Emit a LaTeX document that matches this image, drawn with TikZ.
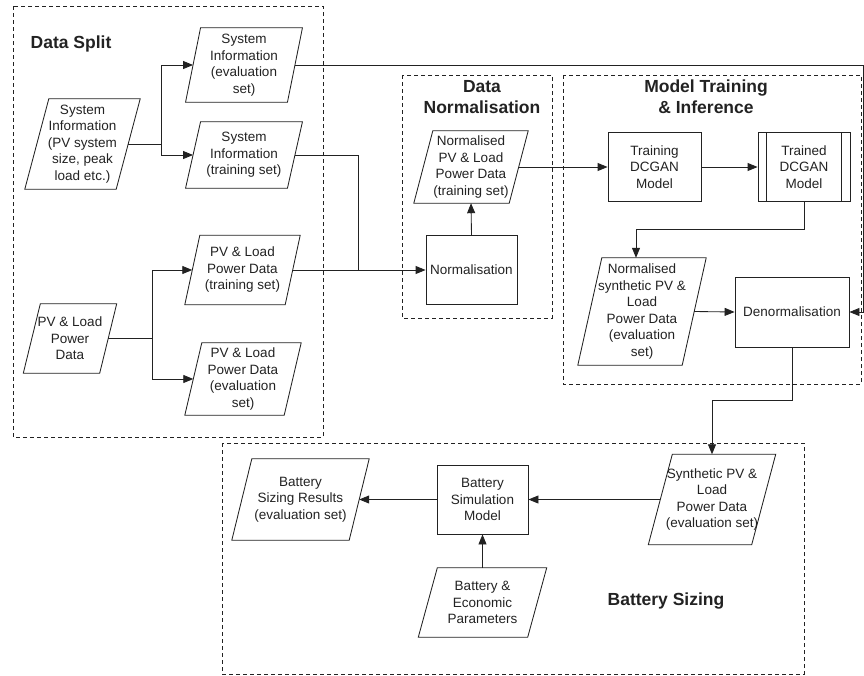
\documentclass[tikz,border=0pt]{standalone}
\usepackage{fontspec}
\setmainfont{Liberation Sans}
\usetikzlibrary{arrows.meta,calc}

% outline of a data (parallelogram) node: #1 node name, #2 horizontal lean
\newcommand\dataoutline[2]{%
  \draw[edge] ($(#1.north west)+(#2/2,0)$) -- ($(#1.north east)+(#2/2,0)$)
    -- ($(#1.south east)-(#2/2,0)$) -- ($(#1.south west)-(#2/2,0)$) -- cycle;}

\definecolor{ink}{HTML}{222222}

\tikzset{
  edge/.style={line width=0.85pt, ink},
  flow/.style={edge, -{Triangle[length=10pt,width=8pt]}},
  group/.style={draw, ink, line width=0.8pt, dash pattern=on 4pt off 3pt},
  txt/.style={text=ink, font=\fontsize{13.5}{16.5}\selectfont, align=center, inner sep=0pt},
  datanode/.style 2 args={txt, minimum width=#1, minimum height=#2},
  procnode/.style 2 args={txt, draw=ink, line width=0.85pt, minimum width=#1, minimum height=#2},
  heading/.style={text=ink, font=\fontsize{17.5}{21}\selectfont\bfseries, align=center, inner sep=0pt},
}

\begin{document}
\begin{tikzpicture}[x=1pt,y=-1pt]
\useasboundingbox (0,0) rectangle (864,675);

% ---- group frames ----
\draw[group] (13,6) rectangle (323,437);
\draw[group] (402,75) rectangle (552,318);
\draw[group] (563,75) rectangle (861,384);
\draw[group] (222,443) rectangle (804,674);

\node[heading] (tSplit) at (71,44) {Data Split};
\node[heading] (tNorm) at (482,97) {Data\\Normalisation};
\node[heading] (tModel) at (706,97) {Model Training\\\& Inference};
\node[heading] (tBatt) at (666,601) {Battery Sizing};

% ---- data split ----
\node[datanode={91pt}{90pt}] (sysin) at (82.5,144) {System\\Information\\(PV system\\size, peak\\load etc.)};
\dataoutline{sysin}{24}
\node[datanode={101.5pt}{74pt}] (syseval) at (244,65) {System\\Information\\(evaluation\\set)};
\dataoutline{syseval}{15}
\node[datanode={101.5pt}{66pt}] (systrain) at (244,155) {System\\Information\\(training set)};
\dataoutline{systrain}{15}
\node[datanode={76pt}{69pt}] (pvin) at (70,338.5) {PV \& Load\\Power\\Data};
\dataoutline{pvin}{17}
\node[datanode={100pt}{69pt}] (pvtrain) at (242.5,270) {PV \& Load\\Power Data\\(training set)};
\dataoutline{pvtrain}{15}
\node[datanode={99pt}{72pt}] (pveval) at (243,379) {PV \& Load\\Power Data\\(evaluation\\set)};
\dataoutline{pveval}{17}

% ---- normalisation ----
\node[datanode={95pt}{72pt}] (normpv) at (471,167) {Normalised\\PV \& Load\\Power Data\\(training set)};
\dataoutline{normpv}{19}
\node[procnode={91pt}{69pt}] (normbox) at (471.5,270) {Normalisation};

% ---- model training & inference ----
\node[procnode={93pt}{69pt}] (train) at (654.5,167) {Training\\DCGAN\\Model};
\node[procnode={92pt}{69pt}] (trained) at (804,167) {Trained\\DCGAN\\Model};
\draw[edge] ($(trained.north west)+(9,0)$) -- ($(trained.south west)+(9,0)$);
\draw[edge] ($(trained.north east)-(9,0)$) -- ($(trained.south east)-(9,0)$);
\node[datanode={104pt}{107pt}] (synnorm) at (642,311.5) {Normalised\\synthetic PV \&\\Load\\Power Data\\(evaluation\\set)};
\dataoutline{synnorm}{24}
\node[procnode={114pt}{70pt}] (denorm) at (792,312) {Denormalisation};

% ---- battery sizing ----
\node[datanode={103pt}{90pt}] (synth) at (712,499.5) {Synthetic PV \&\\Load\\Power Data\\(evaluation set)};
\dataoutline{synth}{24}
\node[procnode={91pt}{69pt}] (bsim) at (482.5,499.5) {Battery\\Simulation\\Model};
\node[datanode={117pt}{81pt}] (bres) at (300.5,499.5) {Battery\\Sizing Results\\(evaluation set)};
\dataoutline{bres}{20}
\node[datanode={109pt}{69pt}] (bpar) at (482.5,602.5) {Battery \&\\Economic\\Parameters};
\dataoutline{bpar}{19}

% ---- routing points ----
\coordinate (splitA) at (161,144);
\coordinate (splitB) at (152,338.5);
\coordinate (joinT) at (358,270);
\coordinate (rightX) at (863.5,0);
\coordinate (bendM) at (636,229);
\coordinate (bendD) at (712,400);

% ---- connectors ----
\draw[edge] (sysin.east) -- (splitA);
\draw[flow] (splitA) |- (syseval.west);
\draw[flow] (splitA) |- (systrain.west);
\draw[edge] (pvin.east) -- (splitB);
\draw[flow] (splitB) |- (pvtrain.west);
\draw[flow] (splitB) |- (pveval.west);
\draw[edge] (systrain.east) -| (joinT);
\draw[flow] (pvtrain.east) -- (normbox.west);
\draw[flow] (normbox.north) -- (normpv.south);
\draw[flow] (normpv.east) -- (train.west);
\draw[flow] (train.east) -- (trained.west);
\draw[flow] (trained.south) |- (bendM) -- (bendM |- synnorm.north);
\draw[flow] (synnorm.east) -- (denorm.west);
\draw[flow] (syseval.east) -- (syseval.east -| rightX) |- (denorm.east);
\draw[flow] (denorm.south) |- (bendD) -- (synth.north);
\draw[flow] (synth.west) -- (bsim.east);
\draw[flow] (bsim.west) -- (bres.east);
\draw[flow] (bpar.north) -- (bsim.south);
\end{tikzpicture}
\end{document}
